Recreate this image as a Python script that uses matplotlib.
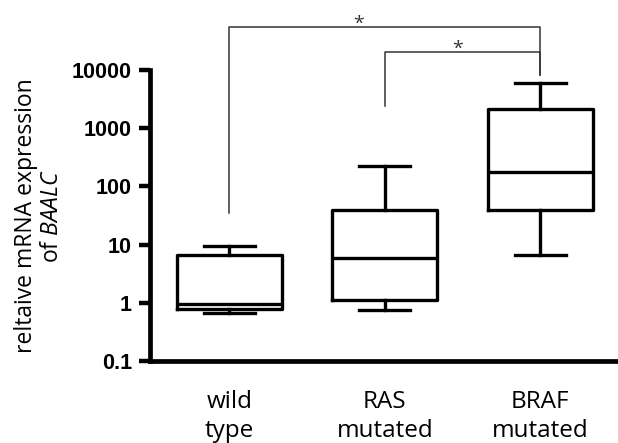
import matplotlib.pyplot as plt

plt.rcParams['font.family'] = ['Open Sans', 'DejaVu Sans']
plt.rcParams['mathtext.fontset'] = 'custom'
plt.rcParams['mathtext.rm'] = 'Open Sans'
plt.rcParams['mathtext.it'] = 'Open Sans:italic'

# data
groups = ['wild\ntype', 'RAS\nmutated', 'BRAF\nmutated']
whislo = [0.68, 0.74, 6.5]
q1 = [0.79, 1.12, 40]
med = [0.95, 5.8, 174]
q3 = [6.6, 39, 2150]
whishi = [9.5, 224, 6000]
yticks = [0.1, 1, 10, 100, 1000, 10000]
ytick_labels = ['0.1', '1', '10', '100', '1000', '10000']

# significance brackets: (left group, right group, bar height, left leg bottom, right leg bottom, star x)
brackets = [(1, 3, 55000, 35, 8300, 1.83), (2, 3, 20600, 2400, 8300, 2.47)]

fig = plt.figure(figsize=(6.18, 4.43), dpi=100)
ax = fig.add_axes([150/618, 82/443, 468/618, 291/443])

stats = []
for i in range(3):
    stats.append(dict(whislo=whislo[i], q1=q1[i], med=med[i], q3=q3[i],
                      whishi=whishi[i], fliers=[]))

lw = 2.4
ax.bxp(stats, positions=[1, 2, 3], widths=0.675, capwidths=0.33,
       showfliers=False,
       boxprops=dict(color='black', linewidth=lw),
       medianprops=dict(color='black', linewidth=lw),
       whiskerprops=dict(color='black', linewidth=lw),
       capprops=dict(color='black', linewidth=lw))

ax.set_yscale('log')
ax.set_ylim(0.1, 10000)
ax.set_xlim(0.49, 3.5)
ax.set_yticks(yticks)
ax.set_yticklabels(ytick_labels, fontfamily='Liberation Sans',
                   fontweight='bold', fontsize=15.5)
ax.minorticks_off()
ax.tick_params(axis='y', length=8, width=3.2, pad=5)
ax.set_xticks([])

for s in ['top', 'right']:
    ax.spines[s].set_visible(False)
for s in ['left', 'bottom']:
    ax.spines[s].set_linewidth(3.4)

ax.set_ylabel('reltaive mRNA expression\nof $\\mathit{BAALC}$', fontsize=16.5,
              linespacing=1.1, labelpad=6)

for i, g in enumerate(groups):
    ax.text(i + 1, -0.1, g, transform=ax.get_xaxis_transform(), ha='center',
            va='top', fontsize=17.5, linespacing=1.25)

for a, b, h, ya, yb, sx in brackets:
    ax.plot([a, a, b, b], [ya, h, h, yb], color='#333333', linewidth=1.1,
            clip_on=False)
    ax.annotate('*', xy=(sx, h), xytext=(0, 2), textcoords='offset points',
                ha='center', va='center', fontsize=14, color='#333333',
                annotation_clip=False)

plt.savefig('out.png', dpi=100)
